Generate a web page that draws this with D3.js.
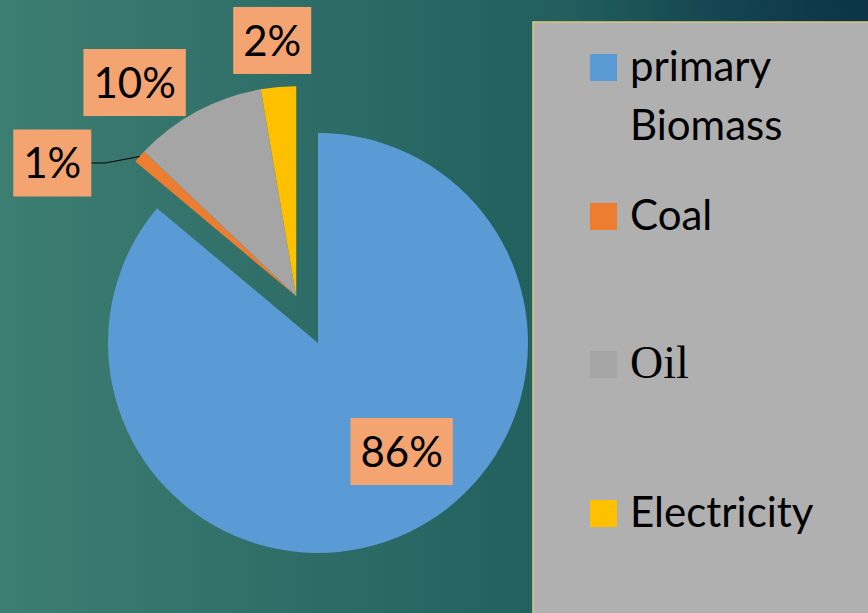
<!DOCTYPE html>
<html><head><meta charset="utf-8">
<script src="https://cdn.jsdelivr.net/npm/d3@7"></script>
<style>html,body{margin:0;padding:0;overflow:hidden;background:#2a6462}</style>
</head><body>
<script>
// ---- data ----
const categories = ["primary Biomass", "Coal", "Oil", "Electricity"];
const shares = [86.1, 1.0, 10.2, 2.7];
const pctLabels = ["86%", "1%", "10%", "2%"];
const colors = ["#5b9bd5", "#ed7d31", "#a5a5a5", "#ffc000"];

const W = 868, H = 613;
const svg = d3.select("body").append("svg").attr("width", W).attr("height", H);

const defs = svg.append("defs");
const grad = defs.append("linearGradient").attr("id", "bg")
  .attr("x1", "0").attr("y1", "0").attr("x2", "1").attr("y2", "0");
grad.append("stop").attr("offset", "0").attr("stop-color", "#3d7e72");
grad.append("stop").attr("offset", "0.6").attr("stop-color", "#23615f");
grad.append("stop").attr("offset", "1").attr("stop-color", "#1b5159");
const rad = defs.append("radialGradient").attr("id", "corner")
  .attr("gradientUnits", "userSpaceOnUse").attr("cx", W).attr("cy", 0).attr("r", 300);
rad.append("stop").attr("offset", "0").attr("stop-color", "#0c3347").attr("stop-opacity", 1);
rad.append("stop").attr("offset", "1").attr("stop-color", "#0c3347").attr("stop-opacity", 0);
svg.append("rect").attr("width", W).attr("height", H).attr("fill", "url(#bg)");
svg.append("rect").attr("width", W).attr("height", H).attr("fill", "url(#corner)");

// ---- pie ----
const cx = 318, cy = 343, R = 210, explode = 51.5;
const arcs = d3.pie().sort(null).value(d => d)(shares);
const arc = d3.arc().innerRadius(0).outerRadius(R);
const mid = (arcs[1].startAngle + arcs[3].endAngle) / 2;
const offset = i => i === 0 ? [0, 0] : [Math.sin(mid) * explode, -Math.cos(mid) * explode];

const g = svg.append("g").attr("transform", `translate(${cx},${cy})`);
g.selectAll("path.slice").data(arcs).join("path")
  .attr("class", "slice")
  .attr("transform", (d, i) => `translate(${offset(i)})`)
  .attr("d", arc)
  .attr("fill", (d, i) => colors[i]);

// ---- data labels ----
const deg = Math.PI / 180;
const labelLayout = [ {r: 137, da: -12.6}, {r: 278, da: -13.1}, {r: 268, da: -9}, {r: 257, da: -0.5} ];
const polar = (a, r) => [Math.sin(a) * r, -Math.cos(a) * r];
const labFont = "Lato, 'Open Sans', sans-serif";
arcs.forEach((d, i) => {
  const o = offset(i);
  const a = (d.startAngle + d.endAngle) / 2;
  const p = polar(a + labelLayout[i].da * deg, labelLayout[i].r);
  const x = o[0] + p[0], y = o[1] + p[1];
  const lg = g.append("g").attr("transform", `translate(${x},${y})`);
  const rect = lg.append("rect").attr("fill", "#f4a470");
  const t = lg.append("text").attr("text-anchor", "middle").attr("dy", "0.36em")
    .attr("font-family", labFont).attr("font-size", 42).attr("fill", "#000")
    .text(pctLabels[i]);
  const w = t.node().getComputedTextLength() + 20, h = 67;
  rect.attr("x", -w / 2).attr("y", -h / 2).attr("width", w).attr("height", h);
  if (i === 1) {
    const edge = polar(a, R);
    const ex = o[0] + edge[0], ey = o[1] + edge[1];
    g.insert("path", "g")
      .attr("d", `M${ex},${ey}L${x + w / 2 + 14},${y}L${x + w / 2},${y}`)
      .attr("fill", "none").attr("stroke", "#000").attr("stroke-width", 1.2);
  }
});

// ---- legend ----
const lgX = 533, lgY = 22;
svg.append("rect").attr("x", lgX).attr("y", lgY).attr("width", W - lgX + 5).attr("height", H - lgY + 5)
  .attr("fill", "#b0b0b0").attr("stroke", "#d9c97c").attr("stroke-width", 1.5);
const legendRows = [
  {lines: ["primary", "Biomass"], y: 54, font: labFont, size: 42},
  {lines: ["Coal"], y: 203, font: labFont, size: 42},
  {lines: ["Oil"], y: 351, font: "'Liberation Serif', 'DejaVu Serif', serif", size: 46},
  {lines: ["Electricity"], y: 500, font: labFont, size: 42}
];
legendRows.forEach((row, i) => {
  svg.append("rect").attr("x", 590).attr("y", row.y).attr("width", 27).attr("height", 27)
    .attr("fill", colors[i]);
  const t = svg.append("text").attr("y", row.y + 27)
    .attr("font-family", row.font).attr("font-size", row.size).attr("fill", "#000");
  row.lines.forEach((ln, j) => {
    t.append("tspan").attr("x", 630).attr("dy", j === 0 ? 0 : 59).text(ln);
  });
});
</script>
</body></html>
